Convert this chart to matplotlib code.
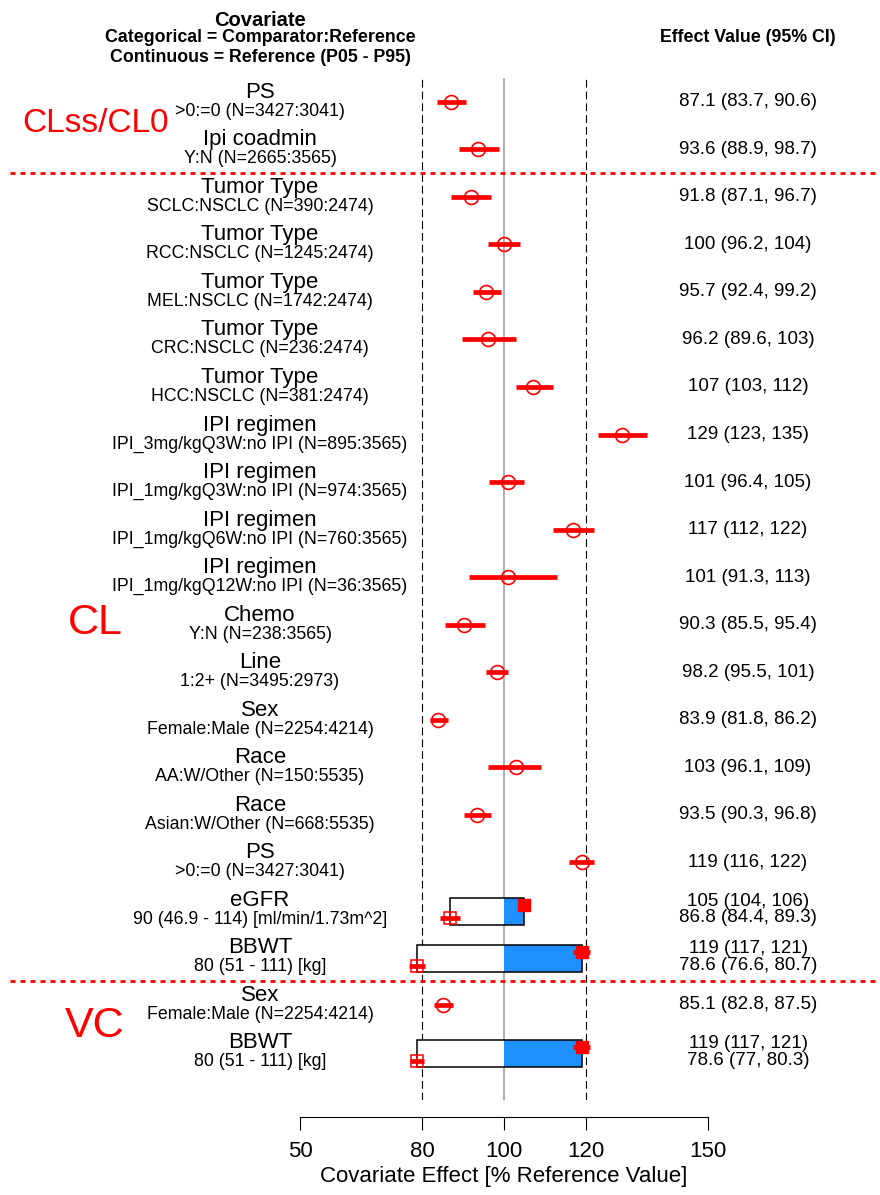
#!/usr/bin/env python3
"""Forest plot of covariate effects on CL and VC."""

import matplotlib

matplotlib.use("Agg", force=True)

import matplotlib.pyplot as plt
from matplotlib.patches import Rectangle
from matplotlib.transforms import blended_transform_factory

plt.rcParams.update({
    "font.family": ["Liberation Sans", "DejaVu Sans"],
})

# row labels (top to bottom)
cov_names = [
    "PS", "Ipi coadmin",
    "Tumor Type", "Tumor Type", "Tumor Type", "Tumor Type", "Tumor Type",
    "IPI regimen", "IPI regimen", "IPI regimen", "IPI regimen",
    "Chemo", "Line", "Sex", "Race", "Race", "PS", "eGFR", "BBWT",
    "Sex", "BBWT",
]
cov_levels = [
    ">0:=0 (N=3427:3041)", "Y:N (N=2665:3565)",
    "SCLC:NSCLC (N=390:2474)", "RCC:NSCLC (N=1245:2474)",
    "MEL:NSCLC (N=1742:2474)", "CRC:NSCLC (N=236:2474)",
    "HCC:NSCLC (N=381:2474)",
    "IPI_3mg/kgQ3W:no IPI (N=895:3565)", "IPI_1mg/kgQ3W:no IPI (N=974:3565)",
    "IPI_1mg/kgQ6W:no IPI (N=760:3565)", "IPI_1mg/kgQ12W:no IPI (N=36:3565)",
    "Y:N (N=238:3565)", "1:2+ (N=3495:2973)", "Female:Male (N=2254:4214)",
    "AA:W/Other (N=150:5535)", "Asian:W/Other (N=668:5535)",
    ">0:=0 (N=3427:3041)", "90 (46.9 - 114) [ml/min/1.73m^2]",
    "80 (51 - 111) [kg]",
    "Female:Male (N=2254:4214)", "80 (51 - 111) [kg]",
]

# categorical covariates: row index, estimate, lower, upper
cat_rows = [0, 1, 2, 3, 4, 5, 6, 7, 8, 9, 10, 11, 12, 13, 14, 15, 16, 19]
cat_est = [87.1, 93.6, 91.8, 100, 95.7, 96.2, 107, 129, 101, 117, 101,
           90.3, 98.2, 83.9, 103, 93.5, 119, 85.1]
cat_lo = [83.7, 88.9, 87.1, 96.2, 92.4, 89.6, 103, 123, 96.4, 112, 91.3,
          85.5, 95.5, 81.8, 96.1, 90.3, 116, 82.8]
cat_hi = [90.6, 98.7, 96.7, 104, 99.2, 103, 112, 135, 105, 122, 113,
          95.4, 101, 86.2, 109, 96.8, 122, 87.5]

# continuous covariates: effect at P95 (high) and P05 (low)
cont_rows = [17, 18, 20]
cont_hi_est = [105, 119, 119]
cont_hi_lo = [104, 117, 117]
cont_hi_hi = [106, 121, 121]
cont_lo_est = [86.8, 78.6, 78.6]
cont_lo_lo = [84.4, 76.6, 77]
cont_lo_hi = [89.3, 80.7, 80.3]

# parameter groups and the rows between which they are split
group_names = ["CLss/CL0", "CL", "VC"]
group_rows = [0.45, 10.97, 19.45]
group_sizes = [24, 31, 31]
split_rows = [1.5, 18.5]

x_ticks = [50, 80, 100, 120, 150]

RED = "#FF0000"
BLUE = "#1E90FF"


def fmt(est, lo, hi):
    return f"{est:.3g} ({lo:.3g}, {hi:.3g})"


fig = plt.figure(figsize=(8.8, 11.95), dpi=100)
ax = fig.add_axes([300 / 880, 95 / 1195, 408 / 880, 1022 / 1195])
ax.set_xlim(50, 150)
ax.set_ylim(21.01, -0.505)
ax.patch.set_alpha(0)

for side in ("top", "right", "left"):
    ax.spines[side].set_visible(False)
ax.spines["bottom"].set_position(("outward", 12))
ax.spines["bottom"].set_bounds(50, 150)
ax.spines["bottom"].set_linewidth(0.8)
ax.set_yticks([])
ax.set_xticks(x_ticks)
ax.tick_params(axis="x", direction="out", length=9.5, width=0.8, pad=8,
               labelsize=16)
ax.set_xlabel("Covariate Effect [% Reference Value]", fontsize=16, labelpad=3)

# reference lines
ax.axvline(100, color="#999999", lw=1.1, zorder=1)
for xv in (80, 120):
    ax.axvline(xv, color="black", lw=0.8, ls=(0, (7, 3.6)), zorder=1)

# continuous covariates: boxes from P05 effect to P95 effect
box_h = 0.57
for r, he, hl, hh, le, ll, lh in zip(cont_rows, cont_hi_est, cont_hi_lo,
                                     cont_hi_hi, cont_lo_est, cont_lo_lo,
                                     cont_lo_hi):
    y0 = r + 0.04
    ax.add_patch(Rectangle((le, y0 - box_h / 2), 100 - le, box_h,
                           facecolor="white", edgecolor="none", zorder=2))
    ax.add_patch(Rectangle((100, y0 - box_h / 2), he - 100, box_h,
                           facecolor=BLUE, edgecolor="none", zorder=2))
    ax.add_patch(Rectangle((le, y0 - box_h / 2), he - le, box_h,
                           facecolor="none", edgecolor="black", lw=1.1,
                           zorder=3))
    yh = r - 0.1
    yl = r + 0.18
    ax.plot([hl, hh], [yh, yh], color=RED, lw=3.4, solid_capstyle="butt",
            zorder=4)
    ax.plot([he], [yh], marker="s", ms=8.5, color=RED, zorder=5)
    ax.plot([ll, lh], [yl, yl], color=RED, lw=3.4, solid_capstyle="butt",
            zorder=4)
    ax.plot([le], [yl], marker="s", ms=8.5, mfc="none", mec=RED, mew=1.1,
            zorder=5)
    ax.plot([le], [yl], marker="+", ms=8.5, mec=RED, mew=1.1, zorder=5)

# categorical covariates: point estimate and 95% CI
for r, e, lo, hi in zip(cat_rows, cat_est, cat_lo, cat_hi):
    ax.plot([lo, hi], [r, r], color=RED, lw=3.4, solid_capstyle="butt",
            zorder=4)
    ax.plot([e], [r], marker="o", ms=10, mfc="none", mec=RED, mew=1.2,
            zorder=5)

# text columns
tr = blended_transform_factory(fig.transFigure, ax.transData)
x_lab = 260 / 880
x_val = 748 / 880
for i, (name, level) in enumerate(zip(cov_names, cov_levels)):
    ax.text(x_lab, i - 0.2, name, transform=tr, ha="center", va="center",
            fontsize=16)
    ax.text(x_lab, i + 0.2, level, transform=tr, ha="center", va="center",
            fontsize=12.8)

for r, e, lo, hi in zip(cat_rows, cat_est, cat_lo, cat_hi):
    ax.text(x_val, r, fmt(e, lo, hi), transform=tr, ha="center",
            va="center", fontsize=13.5)

for r, he, hl, hh, le, ll, lh in zip(cont_rows, cont_hi_est, cont_hi_lo,
                                     cont_hi_hi, cont_lo_est, cont_lo_lo,
                                     cont_lo_hi):
    ax.text(x_val, r - 0.17, fmt(he, hl, hh), transform=tr, ha="center",
            va="center", fontsize=13.5)
    ax.text(x_val, r + 0.17, fmt(le, ll, lh), transform=tr, ha="center",
            va="center", fontsize=13.5)

# group labels and separators
for name, r, size in zip(group_names, group_rows, group_sizes):
    ax.text(95 / 880, r, name, transform=tr, ha="center", va="center",
            fontsize=size, color=RED)
for r in split_rows:
    ax.plot([10 / 880, 1.0], [r, r], transform=tr, color=RED, lw=2,
            ls=(0, (1.8, 1.8)), clip_on=False, zorder=6)

# headers
fig.text(x_lab, 1 - 20 / 1195, "Covariate", ha="center", va="center",
         fontsize=14.5, fontweight="bold")
fig.text(x_lab, 1 - 38 / 1195, "Categorical = Comparator:Reference",
         ha="center", va="center", fontsize=12.8, fontweight="bold")
fig.text(x_lab, 1 - 57 / 1195, "Continuous = Reference (P05 - P95)",
         ha="center", va="center", fontsize=12.8, fontweight="bold")
fig.text(x_val, 1 - 38 / 1195, "Effect Value (95% CI)", ha="center",
         va="center", fontsize=12.8, fontweight="bold")

fig.savefig("out.png", dpi=100, facecolor="white")
